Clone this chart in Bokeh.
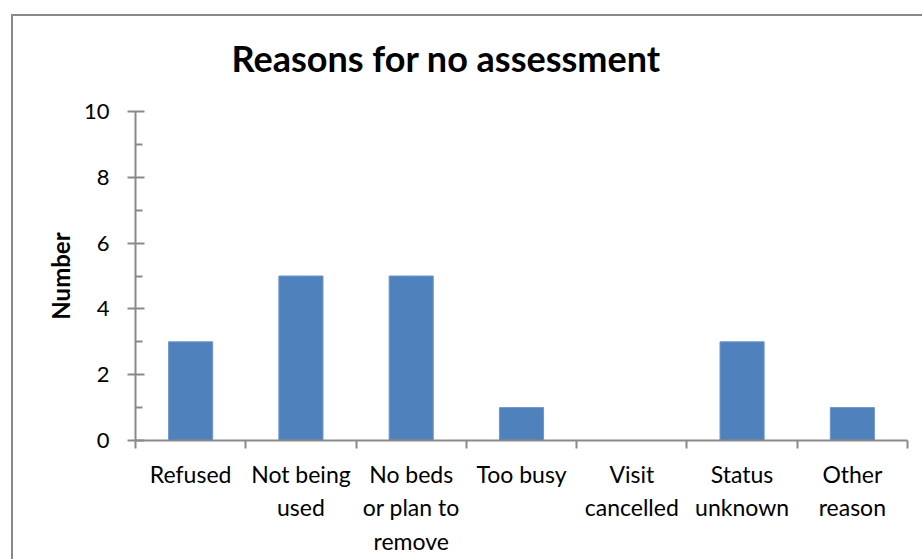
from bokeh.plotting import figure
from bokeh.models import FixedTicker, Range1d, ColumnDataSource
from bokeh.embed import file_html
from bokeh.resources import INLINE

title_text = "Reasons for no assessment"
categories = ["Refused", "Not being\nused", "No beds\nor plan to\nremove", "Too busy",
              "Visit\ncancelled", "Status\nunknown", "Other\nreason"]
values = [3, 5, 5, 1, 0, 3, 1]
y_ticks = [0, 2, 4, 6, 8, 10]
y_minor = [1, 3, 5, 7, 9]

FONT = "Lato"
AXIS_COLOR = "#8a8a8a"
BORDER = "#898989"

n = len(categories)
centers = [i + 0.5 for i in range(n)]
src = ColumnDataSource(dict(x=centers, top=values))

# chart-area border (left and top edges; right/bottom lie outside the window)
border_styles = {
    "background-image": f"linear-gradient({BORDER},{BORDER}), linear-gradient({BORDER},{BORDER})",
    "background-position": "11px 14px, 11px 14px",
    "background-size": "2px 100%, 100% 2px",
    "background-repeat": "no-repeat",
    "background-color": "white",
}

p = figure(width=922, height=559, output_backend="svg", toolbar_location=None,
           x_range=Range1d(0, n), y_range=Range1d(0, 10),
           min_border_left=135, min_border_right=15, min_border_top=111, min_border_bottom=119,
           border_fill_color=None, background_fill_color=None,
           styles=border_styles)

p.vbar(x="x", top="top", width=0.4, source=src, fill_color="#4F81BD",
       line_color="#6f97cc", line_width=1)

p.grid.visible = False
p.outline_line_color = None

# title
p.title.text = title_text
p.title.text_font = FONT
p.title.text_font_size = "36px"
p.title.text_font_style = "bold"
p.title.text_color = "black"
p.title.align = "left"
p.title.offset = 96
p.title.standoff = 63

# y axis
ya = p.yaxis[0]
ya.ticker = FixedTicker(ticks=y_ticks, minor_ticks=y_minor)
ya.axis_line_color = AXIS_COLOR
ya.axis_line_width = 2
ya.major_tick_line_color = AXIS_COLOR
ya.major_tick_line_width = 2
ya.minor_tick_line_color = AXIS_COLOR
ya.minor_tick_line_width = 2
ya.major_tick_in = 9
ya.major_tick_out = 8
ya.minor_tick_in = 7
ya.minor_tick_out = 0
ya.major_label_text_font = FONT
ya.major_label_text_font_size = "22px"
ya.major_label_text_color = "black"
ya.major_label_standoff = 18
ya.axis_label = "Number"
ya.axis_label_text_font = FONT
ya.axis_label_text_font_size = "24px"
ya.axis_label_text_font_style = "bold"
ya.axis_label_text_color = "black"
ya.axis_label_standoff = 6

# x axis: labels at category centres, tick marks between categories
xa = p.xaxis[0]
xa.ticker = FixedTicker(ticks=centers, minor_ticks=list(range(n + 1)))
xa.major_label_overrides = {c: lab for c, lab in zip(centers, categories)}
xa.axis_line_color = AXIS_COLOR
xa.axis_line_width = 2
xa.major_tick_line_color = None
xa.major_tick_in = 0
xa.major_tick_out = 8
xa.minor_tick_line_color = AXIS_COLOR
xa.minor_tick_line_width = 2
xa.minor_tick_in = 0
xa.minor_tick_out = 8
xa.major_label_text_font = FONT
xa.major_label_text_font_size = "23px"
xa.major_label_text_color = "black"
xa.major_label_standoff = 11

open("out.html", "w").write(file_html(p, INLINE))
